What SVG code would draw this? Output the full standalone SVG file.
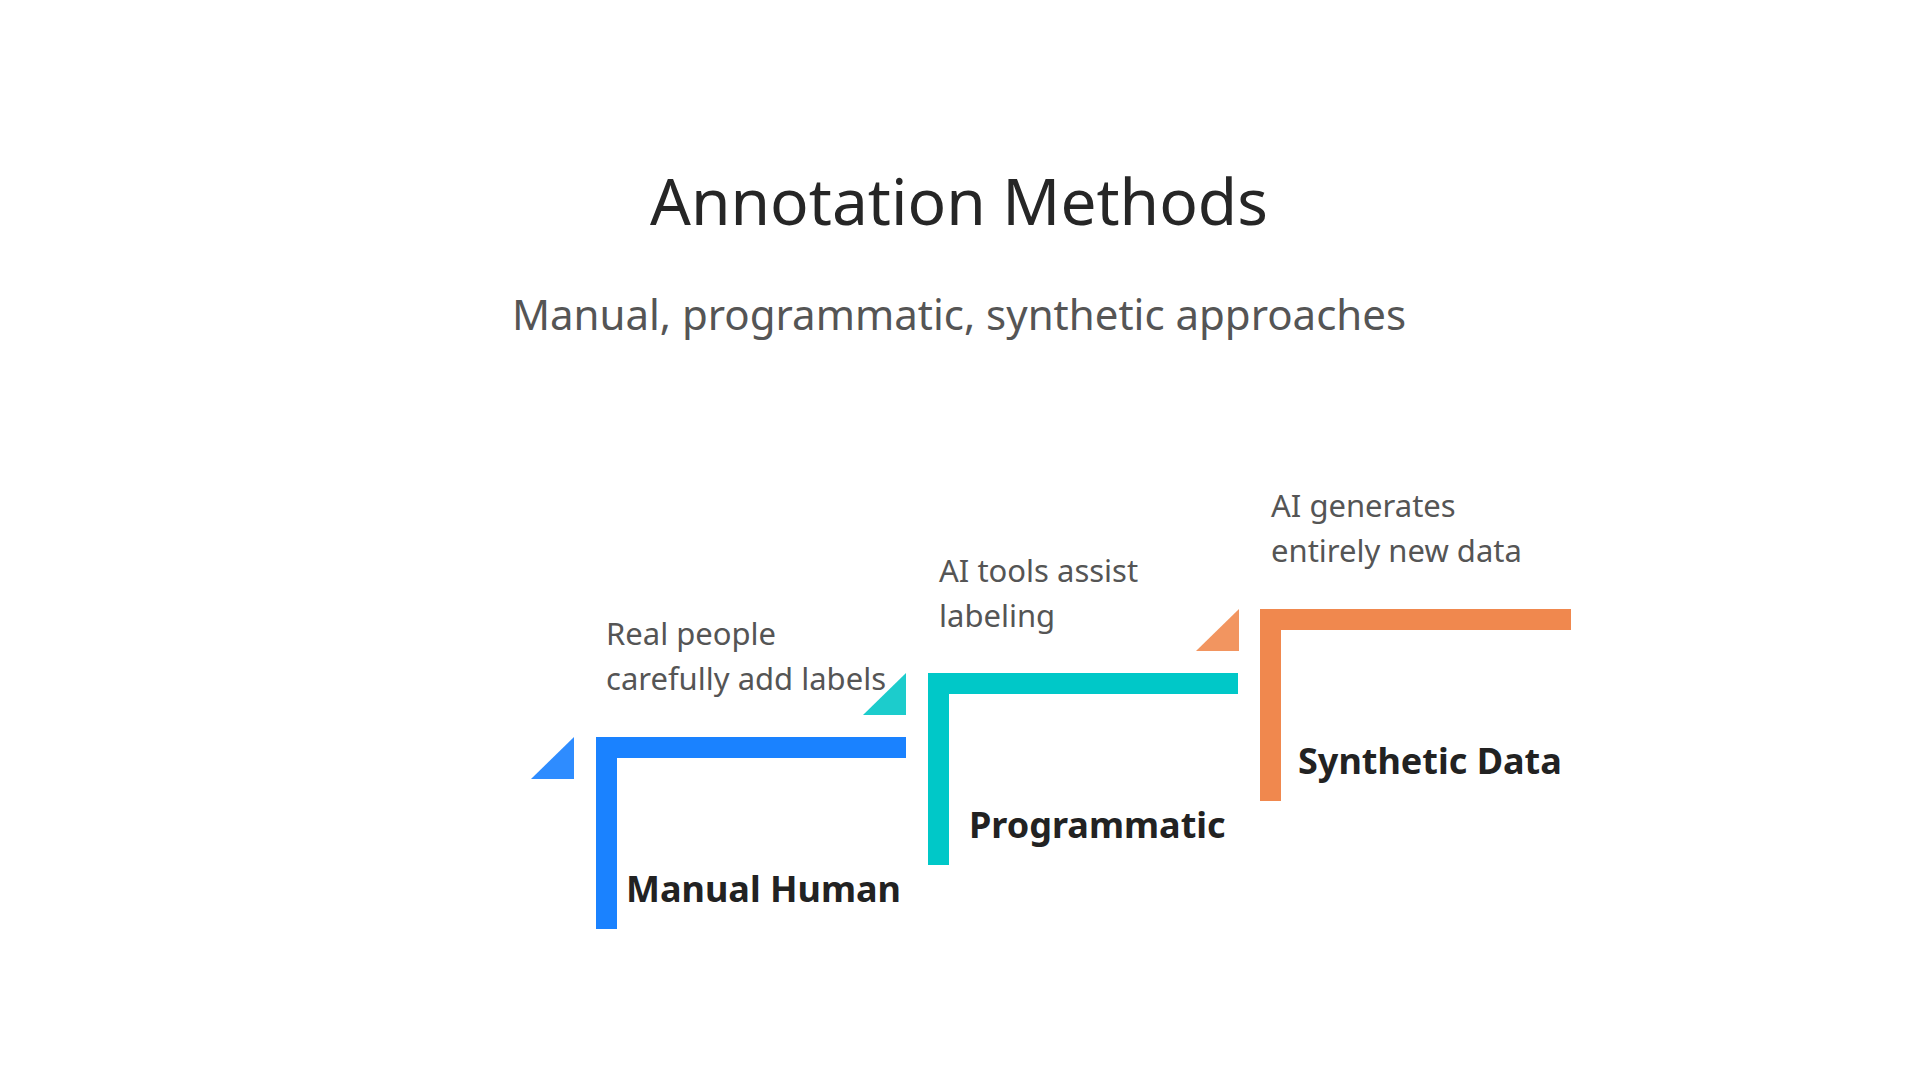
<svg xmlns="http://www.w3.org/2000/svg" width="1920" height="1080" viewBox="0 0 1920 1080">
<style>
.t{font-family:"Noto Sans","Open Sans",sans-serif;fill:#262626}
.d{font-family:"Noto Sans","Open Sans",sans-serif;font-size:31px;fill:#555}
.l{font-family:"Noto Sans","Open Sans",sans-serif;font-size:36px;font-weight:bold;fill:#222}
</style>
<rect width="1920" height="1080" fill="#fff"/>
<text class="t" x="959" y="225" text-anchor="middle" font-size="64">Annotation Methods</text>
<text class="t" x="959" y="330" text-anchor="middle" font-size="42" fill="#555" style="fill:#555">Manual, programmatic, synthetic approaches</text>
<g id="manual">
<path d="M596 737H906V758H617V929H596Z" fill="#1a82ff"/>
<polygon points="531,779 574,779 574,737" fill="#2e8cff"/>
<text class="d" x="606" y="645">Real people</text>
<text class="d" x="606" y="690">carefully add labels</text>
<text class="l" x="626" y="902">Manual Human</text>
</g>
<g id="programmatic">
<path d="M928 673H1238V694H949V865H928Z" fill="#00c8c8"/>
<polygon points="863,715 906,715 906,673" fill="#1ccccc"/>
<text class="d" x="939" y="582">AI tools assist</text>
<text class="d" x="939" y="627">labeling</text>
<text class="l" x="969" y="838">Programmatic</text>
</g>
<g id="synthetic">
<path d="M1260 609H1571V630H1281V801H1260Z" fill="#f0884e"/>
<polygon points="1196,651 1239,651 1239,609" fill="#f29560"/>
<text class="d" x="1271" y="517">AI generates</text>
<text class="d" x="1271" y="562">entirely new data</text>
<text class="l" x="1298" y="774">Synthetic Data</text>
</g>
<g id="connectors"/>
</svg>
